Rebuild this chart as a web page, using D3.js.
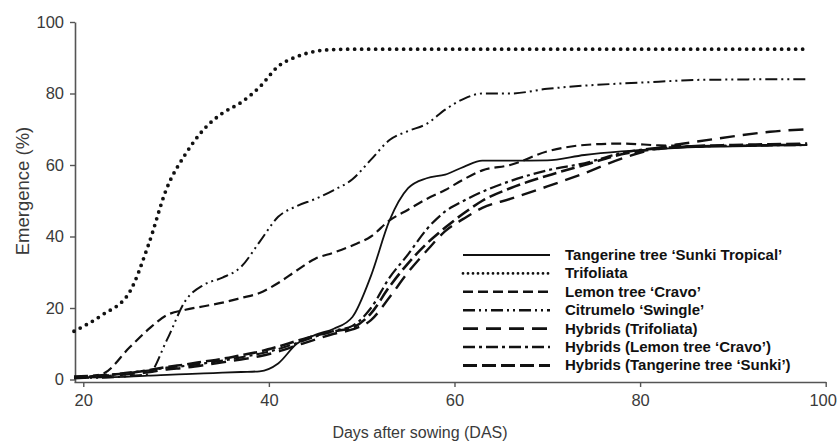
<!DOCTYPE html>
<html>
<head>
<meta charset="utf-8">
<script src="https://cdn.jsdelivr.net/npm/d3@7"></script>
<style>
    body { margin: 0; background: #fff; }
    svg { display: block; font-family: Arial, "Liberation Sans", sans-serif; }
</style>
</head>
<body>
<div id="chart"></div>
<script>
// 播种后天数 (x)
let days = [19, 22, 25, 27, 29, 31, 33, 35, 37, 39, 41, 43, 45, 47, 49, 51, 53, 55, 57, 59, 61, 63, 66, 70, 74, 78, 82, 86, 90, 94, 98];

let seriesNames = [
    'Tangerine tree \u2018Sunki Tropical\u2019',
    'Trifoliata',
    'Lemon tree \u2018Cravo\u2019',
    'Citrumelo  \u2018Swingle\u2019',
    'Hybrids (Trifoliata)',
    'Hybrids (Lemon tree \u2018Cravo\u2019)',
    'Hybrids (Tangerine tree \u2018Sunki\u2019)'
];

let sunkiTropical = [0.5, 0.6, 0.8, 1.1, 1.3, 1.5, 1.7, 1.9, 2.1, 2.3, 4.5, 10, 12.5, 14.2, 17.5, 29, 44.5, 53.5, 56.3, 57.3, 59.5, 61.2, 61.2, 61.3, 62.8, 63.8, 64.5, 65, 65.2, 65.4, 65.6];
let trifoliata = [13.5, 18, 24.5, 37.5, 53.5, 63, 70, 74.5, 77.5, 81.8, 87.6, 90.3, 91.8, 92.3, 92.4, 92.4, 92.4, 92.4, 92.4, 92.4, 92.4, 92.4, 92.4, 92.4, 92.4, 92.4, 92.4, 92.4, 92.4, 92.4, 92.4];
let lemonCravo = [0.5, 1.5, 9, 14, 18, 19.5, 20.5, 21.5, 22.8, 24.2, 27, 30.5, 33.8, 35.5, 37.5, 40, 44.5, 47.5, 50.5, 53, 56, 58.5, 60, 63.8, 65.6, 66, 65.5, 65.3, 65.4, 65.6, 65.7];
let citrumelo = [0.5, 0.5, 1, 1.5, 11, 22, 26.5, 28.5, 31.5, 38.5, 45.5, 48.5, 50.5, 53, 56, 61.5, 67, 69.5, 71.5, 75.5, 78.5, 80, 80, 81.3, 82.2, 82.8, 83.3, 83.8, 83.9, 84, 84];
let hybTrifoliata = [0.3, 0.8, 1.5, 2, 2.8, 3.3, 4, 4.8, 5.6, 6.5, 7.8, 9.5, 11.2, 12.8, 14, 16.6, 23, 30, 36, 41.5, 45, 48, 50.5, 54, 57.7, 61.8, 64.8, 66.5, 68, 69.3, 70];
let hybLemonCravo = [0.5, 1, 2, 2.5, 3.3, 3.8, 4.5, 5.3, 6.2, 7.2, 8.5, 10.2, 12, 13.6, 15, 20, 28.5, 35, 42, 47, 50, 52.5, 55.5, 58.5, 60.5, 63.3, 64.8, 65.2, 65.4, 65.5, 65.6];
let hybSunki = [0.8, 1.2, 1.8, 2.6, 3.5, 4.2, 5, 5.8, 6.8, 7.8, 9.2, 10.8, 12.3, 13.5, 14.5, 18.5, 26, 32.5, 38, 42.5, 46.5, 50, 53.5, 57, 60, 63, 64.5, 65.3, 65.6, 65.8, 66];

let xTicks = [20, 40, 60, 80, 100];
let yTicks = [0, 20, 40, 60, 80, 100];

(function () {
    let width = 838, height = 445;

    let svg = d3.select('#chart')
        .append('svg')
        .attr('width', width)
        .attr('height', height);

    let allSeries = [sunkiTropical, trifoliata, lemonCravo, citrumelo, hybTrifoliata, hybLemonCravo, hybSunki];

    // 线型 (dasharray, 线宽)
    let styles = [
        { dash: null, w: 1.8, cap: 'butt' },
        { dash: '0,7', w: 3.8, cap: 'round' },
        { dash: '10,5', w: 2.2, cap: 'butt' },
        { dash: '12,4,2,4,2,4', w: 2, cap: 'butt' },
        { dash: '15,8', w: 2.4, cap: 'butt' },
        { dash: '12,4,3,4', w: 2.2, cap: 'butt' },
        { dash: '14,5', w: 2.6, cap: 'butt' }
    ];

    let x = d3.scaleLinear()
        .domain([19, 100])
        .range([74, 825.7]);

    let y = d3.scaleLinear()
        .domain([-0.7, 100])
        .range([382, 22]);

    let axisColor = '#555';

    // 坐标轴
    let axisX = d3.axisBottom(x)
        .tickValues(xTicks)
        .tickSize(5)
        .tickSizeOuter(0)
        .tickPadding(7);

    let axisY = d3.axisLeft(y)
        .tickValues(yTicks)
        .tickSize(5)
        .tickSizeOuter(0)
        .tickPadding(6);

    let gx = svg.append('g')
        .attr('transform', 'translate(0,' + 382 + ')')
        .call(axisX);

    let gy = svg.append('g')
        .attr('transform', 'translate(' + 75 + ',0)')
        .call(axisY);

    [gx, gy].forEach(function (g) {
        g.select('.domain').attr('stroke', axisColor).attr('stroke-width', 1.6);
        g.selectAll('.tick line').attr('stroke', axisColor).attr('stroke-width', 1.4);
        g.selectAll('.tick text')
            .attr('fill', '#3a3a3a')
            .style('font-size', '16.5px')
            .style('font-family', 'Arial, "Liberation Sans", sans-serif');
    });

    // 最右边的 "100" 稍微左移，避免被画布裁掉
    gx.selectAll('.tick text')
        .filter(function (d) { return d === 100; })
        .attr('dx', -3);

    // 轴标题
    svg.append('text')
        .attr('x', 420)
        .attr('y', 438)
        .attr('text-anchor', 'middle')
        .attr('fill', '#3a3a3a')
        .style('font-size', '16px')
        .text('Days after sowing (DAS)');

    svg.append('text')
        .attr('transform', 'translate(28.5,191) rotate(-90)')
        .attr('text-anchor', 'middle')
        .attr('fill', '#3a3a3a')
        .style('font-size', '18.5px')
        .text('Emergence (%)');

    // 折线
    let line = d3.line()
        .x(function (d, i) { return x(days[i]); })
        .y(function (d, i) { return y(d); })
        .curve(d3.curveMonotoneX);

    svg.selectAll('path.series')
        .data(allSeries)
        .enter()
        .append('path')
        .attr('class', 'series')
        .attr('d', function (d) { return line(d); })
        .attr('fill', 'none')
        .attr('stroke', '#111')
        .attr('stroke-width', function (d, i) { return styles[i].w; })
        .attr('stroke-linecap', function (d, i) { return styles[i].cap; })
        .attr('stroke-dasharray', function (d, i) { return styles[i].dash; });

    // 图例
    let legendX = 463, legendY = 255, rowH = 18.4;

    let legend = svg.selectAll('g.legend')
        .data(seriesNames)
        .enter()
        .append('g')
        .attr('class', 'legend')
        .attr('transform', function (d, i) {
            return 'translate(' + legendX + ',' + (legendY + rowH * i) + ')';
        });

    legend.append('line')
        .attr('x1', 0)
        .attr('x2', 87)
        .attr('y1', 0)
        .attr('y2', 0)
        .attr('stroke', '#111')
        .attr('stroke-width', function (d, i) { return i === 1 ? 2.8 : styles[i].w + 0.4; })
        .attr('stroke-linecap', function (d, i) { return styles[i].cap; })
        .attr('stroke-dasharray', function (d, i) { return i === 1 ? '0,5' : styles[i].dash; });

    legend.append('text')
        .attr('x', 102)
        .attr('y', 5)
        .attr('fill', '#111')
        .style('font-size', '15px')
        .style('font-weight', 'bold')
        .text(function (d) { return d; });
})();
</script>
</body>
</html>
